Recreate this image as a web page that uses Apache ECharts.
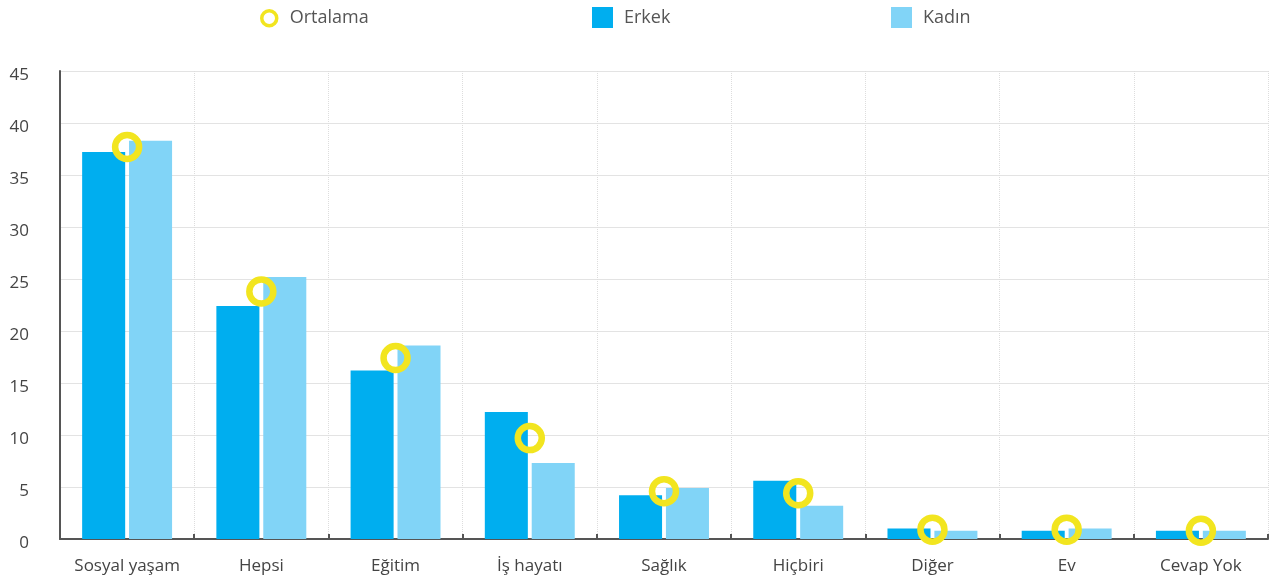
<!DOCTYPE html>
<html>
<head>
<meta charset="utf-8">
<script src="https://cdn.jsdelivr.net/npm/echarts@6/dist/echarts.min.js"></script>
<style>html,body{margin:0;padding:0;background:#fff}#c{width:1270px;height:583px}</style>
</head>
<body>
<div id="c"></div>
<script>
var categories = ["Sosyal yaşam","Hepsi","Eğitim","İş hayatı","Sağlık","Hiçbiri","Diğer","Ev","Cevap Yok"];
var erkek = [37.2, 22.4, 16.2, 12.2, 4.2, 5.6, 1.0, 0.8, 0.8];
var kadin = [38.3, 25.2, 18.6, 7.3, 4.9, 3.2, 0.8, 1.0, 0.8];
var ortalama = [37.7, 23.8, 17.4, 9.7, 4.6, 4.4, 0.9, 0.9, 0.8];
var yTicks = [0, 5, 10, 15, 20, 25, 30, 35, 40, 45];

var FONT = "Open Sans";
var chart = echarts.init(document.getElementById('c'));
var legText = {fontFamily:FONT,fontSize:18,color:'#555'};
var legends = [
  {data:[{name:'Ortalama', icon:'circle', itemStyle:{color:'transparent', borderColor:'#F2E51F', borderWidth:3.5}}], left:255, top:4, itemWidth:15, itemHeight:15, textStyle:Object.assign({padding:[0,0,0,8]}, legText)},
  {data:[{name:'Erkek', icon:'rect'}], left:587, top:2, itemWidth:21, itemHeight:21, textStyle:Object.assign({padding:[0,0,0,6]}, legText)},
  {data:[{name:'Kadın', icon:'rect'}], left:886, top:2, itemWidth:21, itemHeight:21, textStyle:Object.assign({padding:[0,0,0,6]}, legText)}
];
chart.setOption({
  animation: false,
  legend: legends,
  grid: {left: 60, right: 2, top: 71, bottom: 44, containLabel: false},
  xAxis: {
    type: 'category',
    data: categories,
    axisLine: {lineStyle: {color: '#555', width: 2}},
    axisTick: {show: true, alignWithLabel: false, length: 5, inside: true, lineStyle: {color: '#555', width: 2}},
    axisLabel: {fontFamily: FONT, fontSize: 17, color: '#444', margin: 19, interval: 0},
    splitLine: {show: true, interval: 0, lineStyle: {color: '#ddd', type: 'dotted', width: 1}}
  },
  yAxis: {
    type: 'value',
    min: yTicks[0], max: yTicks[yTicks.length-1], interval: 5,
    axisLine: {show: true, lineStyle: {color: '#555', width: 2}},
    axisTick: {show: false},
    axisLabel: {fontFamily: FONT, fontSize: 17, color: '#444', margin: 31,
      formatter: '{a|{value}}', rich: {a: {fontFamily: FONT, fontSize: 17, color: '#444', padding: [8,0,0,0]}}},
    splitLine: {show: true, lineStyle: {color: '#e3e3e3', width: 1}}
  },
  series: [
    {name: 'Erkek', type: 'bar', data: erkek, barGap: '9%', barCategoryGap: '33%', itemStyle: {color: '#00AEEF'}, z: 2},
    {name: 'Kadın', type: 'bar', data: kadin, itemStyle: {color: '#81D4F7'}, z: 2},
    {name: 'Ortalama', type: 'scatter', data: ortalama, symbol: 'circle', symbolSize: 24,
     itemStyle: {color: 'transparent', borderColor: '#F2E51F', borderWidth: 6.5, opacity: 1}, z: 5}
  ]
});
</script>
</body>
</html>
